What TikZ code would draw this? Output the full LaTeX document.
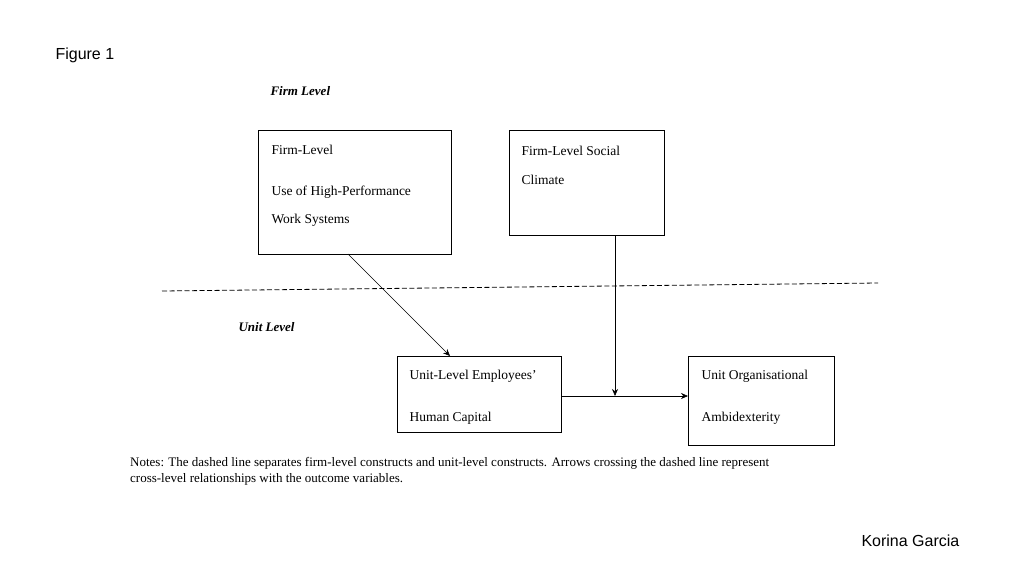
\documentclass[tikz,border=0pt]{standalone}
\usepackage{fontspec}
\setmainfont{Liberation Serif}
\newfontfamily\sansfont{Liberation Sans}
\usetikzlibrary{positioning,arrows.meta}

\begin{document}
\begin{tikzpicture}[x=1pt,y=-1pt,
    box/.style={draw, thick, align=left, anchor=north west, inner sep=0pt},
    lbl/.style={font=\fontsize{13}{14}\selectfont\bfseries\itshape, anchor=west},
    link/.style={-{Stealth[length=7pt,width=6pt]}, semithick}]
    \useasboundingbox (0,0) rectangle (1024,576);

    \node[anchor=west, font=\sansfont\fontsize{16}{18}\selectfont] (fig) at (52,55) {Figure 1};
    \node[anchor=west, font=\sansfont\fontsize{16}{18}\selectfont] (auth) at (858,541) {Korina Garcia};

    \node[lbl] (firm) at (267,91) {Firm Level};
    \node[lbl] (unit) at (235,327) {Unit Level};

    % boxes
    \draw[thick] (258,130) rectangle (451,254);
    \draw[thick] (509,130) rectangle (664,235);
    \draw[thick] (397,356) rectangle (561,432);
    \draw[thick] (688,356) rectangle (834,445);

    \begin{scope}[font=\fontsize{13.5}{14}\selectfont]
    \node[anchor=west] (hpws1) at (268,150) {Firm-Level};
    \node[anchor=west] (hpws2) at (268,192) {Use of High-Performance};
    \node[anchor=west] (hpws3) at (268,220) {Work Systems};
    \node[anchor=west] (soc1) at (518,151) {Firm-Level Social};
    \node[anchor=west] (soc2) at (518,180) {Climate};
    \node[anchor=west] (hc1) at (406,376) {Unit-Level Employees'};
    \node[anchor=west] (hc2) at (406,418) {Human Capital};
    \node[anchor=west] (amb1) at (698,376) {Unit Organisational};
    \node[anchor=west] (amb2) at (698,418) {Ambidexterity};
    \end{scope}

    % dashed separator
    \coordinate (dl) at (162,291);
    \coordinate (dr) at (878,283);
    \draw[dashed, thick, dash pattern=on 5pt off 2.5pt] (dl) -- (dr);

    % connectors
    \coordinate (a1) at (348,254);
    \coordinate (a2) at (450,356);
    \coordinate (b1) at (615,235);
    \coordinate (b2) at (615,396);
    \coordinate (c1) at (561,396);
    \coordinate (c2) at (688,396);
    \draw[link] (a1) -- (a2);
    \draw[link] (b1) -- (b2);
    \draw[link] (c1) -- (c2);

    \node[anchor=north west, align=left, inner sep=0pt, font=\fontsize{13}{16}\selectfont] (notes) at (130,457)
      {Notes: The dashed line separates firm-level constructs and unit-level constructs. Arrows crossing the dashed line represent\\
       cross-level relationships with the outcome variables.};
\end{tikzpicture}
\end{document}
